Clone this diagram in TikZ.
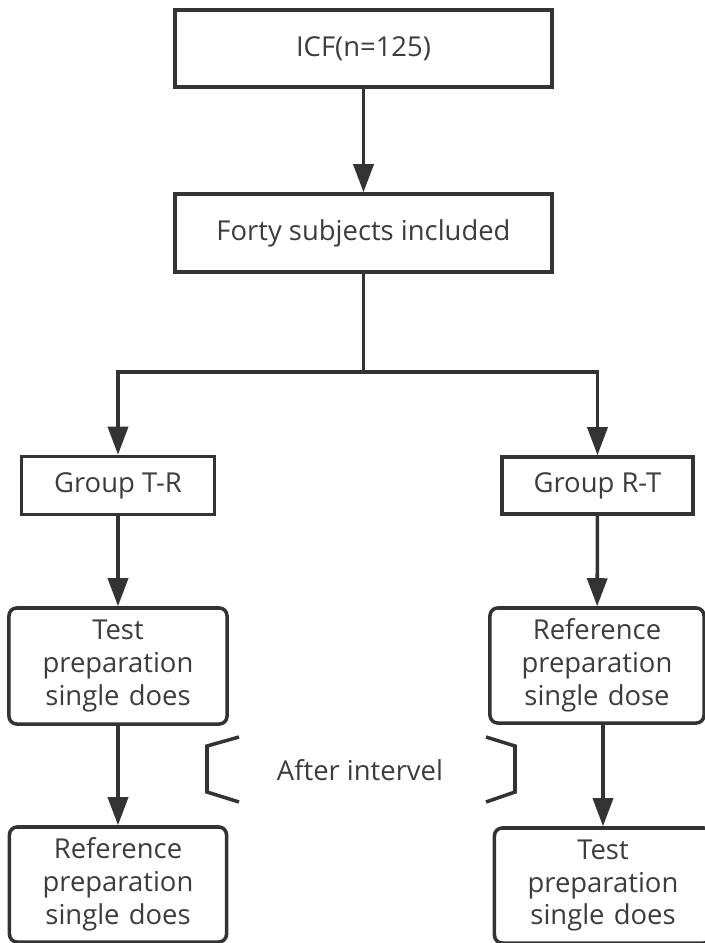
\documentclass[tikz,border=0pt]{standalone}
\usepackage{fontspec}
\setmainfont{Open Sans}
\usetikzlibrary{arrows.meta}
\definecolor{flowline}{RGB}{51,51,51}
\definecolor{flowtext}{RGB}{60,60,60}

\begin{document}
\begin{tikzpicture}[
    x=0.025cm, y=-0.025cm,
    every node/.style={font=\fontsize{19.5}{23.4}\selectfont, text=flowtext},
    squarebox/.style={draw=flowline, line width=2.5pt, align=center, inner sep=0pt},
    roundbox/.style={squarebox, rounded corners=5.5pt},
    flowarrow/.style={draw=flowline, line width=2.5pt, -{Triangle[length=0.7cm,width=0.5cm]}},
    bracketline/.style={draw=flowline, line width=2.5pt}
  ]
  \useasboundingbox (0,0) rectangle (705,943);

  % top of the flow
  \node[squarebox, minimum width=9.425cm, minimum height=1.925cm] (icf) at (363.5,48.5) {ICF(n=125)};
  \node[squarebox, minimum width=9.425cm, minimum height=1.95cm] (forty) at (363.5,233) {Forty subjects included};

  % the two groups
  \node[squarebox, minimum width=4.825cm, minimum height=1.45cm] (grpTR) at (118,485.5) {Group T-R};
  \node[squarebox, minimum width=4.775cm, minimum height=1.425cm] (grpRT) at (597.5,485.5) {Group R-T};

  % first period
  \node[roundbox, text width=5.45cm, minimum height=2.9cm] (testTR) at (118,666) {Test\\preparation\\single does};
  \node[roundbox, text width=5.35cm, minimum height=2.875cm] (refRT) at (597,665.5) {Reference\\preparation\\single dose};

  % second period
  \node[roundbox, text width=5.425cm, minimum height=2.875cm] (refTR) at (118,884.5) {Reference\\preparation\\single does};
  \node[roundbox, text width=5.425cm, minimum height=2.875cm] (testRT) at (603,885.5) {Test\\preparation\\single does};

  \node (interval) at (360,770) {After intervel};

  \coordinate (split) at (363.5,372);

  \draw[flowarrow] (icf) -- (forty);
  \draw[bracketline] (forty.south) -- (split);
  \draw[flowarrow] (split) -| (grpTR.north);
  \draw[flowarrow] (split) -| (grpRT.north);
  \draw[flowarrow] (grpTR) -- (testTR);
  \draw[flowarrow] (grpRT) -- (refRT);
  \draw[flowarrow] (testTR) -- (refTR);
  \draw[flowarrow] (refRT.south -| testRT.north) -- (testRT.north);

  % brackets round the interval
  \draw[bracketline] (239,737) -- (207,746) -- (207,792) -- (239,802);
  \draw[bracketline] (486,737) -- (515,746) -- (515,792) -- (486,802);
\end{tikzpicture}
\end{document}
